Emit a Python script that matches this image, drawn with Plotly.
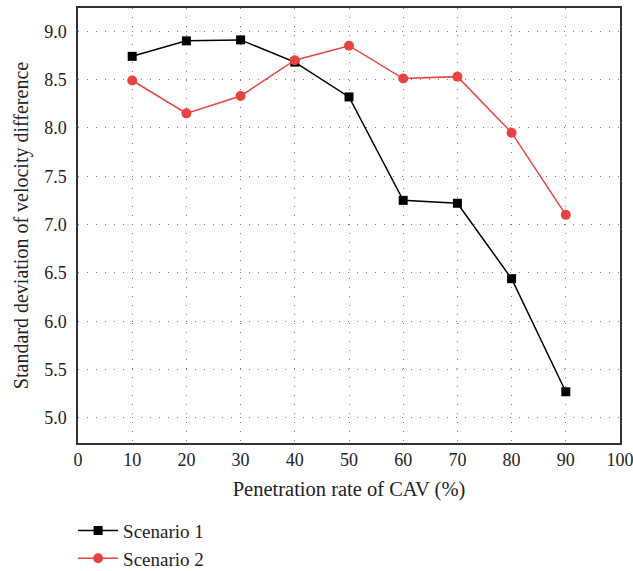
import plotly.graph_objects as go

# Penetration rate of CAV (%)
penetration = [10, 20, 30, 40, 50, 60, 70, 80, 90]
# Standard deviation of velocity difference
scenario_1 = [8.74, 8.90, 8.91, 8.68, 8.32, 7.25, 7.22, 6.44, 5.27]
scenario_2 = [8.49, 8.15, 8.33, 8.70, 8.85, 8.51, 8.53, 7.95, 7.10]

x_ticks = [0, 10, 20, 30, 40, 50, 60, 70, 80, 90, 100]
y_ticks = [5.0, 5.5, 6.0, 6.5, 7.0, 7.5, 8.0, 8.5, 9.0]

font_family = "Liberation Serif, DejaVu Serif, serif"
text_color = "#222222"

fig = go.Figure()
fig.add_trace(go.Scatter(
    x=penetration, y=scenario_1, name="Scenario 1",
    mode="lines+markers",
    line=dict(color="#000000", width=1.5),
    marker=dict(symbol="square", size=9, color="#000000"),
))
fig.add_trace(go.Scatter(
    x=penetration, y=scenario_2, name="Scenario 2",
    mode="lines+markers",
    line=dict(color="#e84343", width=1.5),
    marker=dict(symbol="circle", size=10, color="#e84343"),
))

axis_common = dict(
    showline=True, linecolor="#333333", linewidth=1.5, mirror=True,
    showgrid=True, gridcolor="#777777", gridwidth=1, griddash="1px,8px",
    zeroline=False, ticks="", ticklabeloverflow="allow",
    tickfont=dict(family=font_family, size=18, color=text_color),
)

fig.update_layout(
    width=633, height=571,
    paper_bgcolor="white", plot_bgcolor="white",
    margin=dict(l=78, r=13, t=8, b=128, autoexpand=False),
    font=dict(family=font_family, size=18, color=text_color),
    xaxis=dict(
        range=[0, 100], tickvals=x_ticks,
        title=dict(text="Penetration rate of CAV (%)", standoff=12,
                   font=dict(family=font_family, size=20.5)),
        **axis_common,
    ),
    yaxis=dict(
        range=[4.74, 9.24], tickvals=y_ticks, tickformat=".1f",
        ticklabelstandoff=6,
        title=dict(text="Standard deviation of velocity difference", standoff=10,
                   font=dict(family=font_family, size=20)),
        **axis_common,
    ),
    showlegend=True,
    legend=dict(
        x=-0.009, y=-0.158, xanchor="left", yanchor="top",
        orientation="v",
        font=dict(family=font_family, size=19, color=text_color),
        tracegroupgap=0, itemwidth=40,
        bgcolor="rgba(0,0,0,0)",
    ),
)

fig.write_html("out.html")
